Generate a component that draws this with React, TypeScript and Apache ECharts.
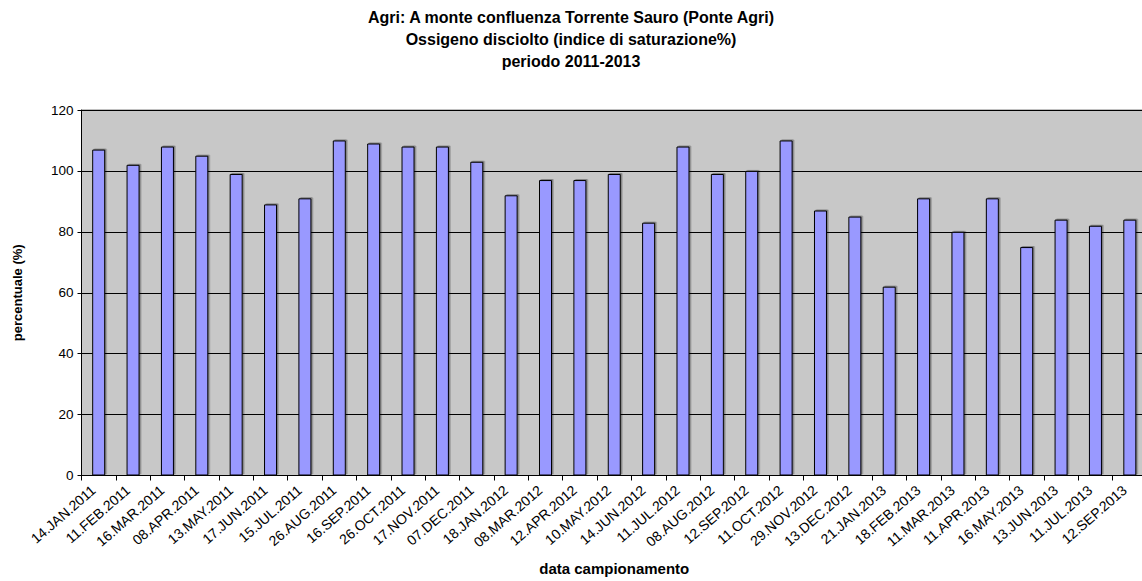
import React, { useEffect, useRef } from "react";
import * as echarts from "echarts";

const titleLines = [
  "Agri: A monte confluenza Torrente Sauro (Ponte Agri)",
  "Ossigeno disciolto (indice di saturazione%)",
  "periodo 2011-2013",
];

const dates = [
  "14.JAN.2011", "11.FEB.2011", "16.MAR.2011", "08.APR.2011", "13.MAY.2011",
  "17.JUN.2011", "15.JUL.2011", "26.AUG.2011", "16.SEP.2011", "26.OCT.2011",
  "17.NOV.2011", "07.DEC.2011", "18.JAN.2012", "08.MAR.2012", "12.APR.2012",
  "10.MAY.2012", "14.JUN.2012", "11.JUL.2012", "08.AUG.2012", "12.SEP.2012",
  "11.OCT.2012", "29.NOV.2012", "13.DEC.2012", "21.JAN.2013", "18.FEB.2013",
  "11.MAR.2013", "11.APR.2013", "16.MAY.2013", "13.JUN.2013", "11.JUL.2013",
  "12.SEP.2013",
];

const saturation = [
  107, 102, 108, 105, 99, 89, 91, 110, 109, 108,
  108, 103, 92, 97, 97, 99, 83, 108, 99, 100,
  110, 87, 85, 62, 91, 80, 91, 75, 84, 82,
  84,
];

const yMin = 0;
const yMax = 120;
const yStep = 20;

const FONT = "'Liberation Sans', Arial, Helvetica, sans-serif";

export default function App() {
  const ref = useRef<HTMLDivElement>(null);

  useEffect(() => {
    document.body.style.margin = "0";
    const chart = echarts.init(ref.current!, null, { renderer: "svg" });
    chart.setOption({
      animation: false,
      backgroundColor: "#ffffff",
      textStyle: { fontFamily: FONT },
      title: {
        text: titleLines.join("\n"),
        left: "center",
        top: 1.5,
        textStyle: {
          fontFamily: FONT,
          fontSize: 16,
          fontWeight: "bold",
          color: "#000",
          lineHeight: 22,
        },
      },
      grid: {
        left: 81.5,
        right: -5,
        top: 110,
        bottom: 105.5,
        outerBoundsMode: "none",
        containLabel: false,
        show: true,
        backgroundColor: "#C8C8C8",
        borderColor: "#808080",
        borderWidth: 1,
      },
      xAxis: {
        type: "category",
        data: dates,
        boundaryGap: true,
        name: "data campionamento",
        nameLocation: "middle",
        nameGap: 85,
        nameTextStyle: {
          fontFamily: FONT,
          fontSize: 15,
          fontWeight: "bold",
          color: "#000",
        },
        axisLine: { show: true, lineStyle: { color: "#000", width: 1 } },
        axisTick: { show: true, length: 5, interval: 0, lineStyle: { color: "#000" } },
        axisLabel: {
          interval: 0,
          rotate: 41,
          margin: 8,
          padding: [0, 7, 0, 0],
          fontFamily: FONT,
          fontSize: 14,
          color: "#000",
        },
        splitLine: { show: false },
      },
      yAxis: {
        type: "value",
        min: yMin,
        max: yMax,
        interval: yStep,
        name: "percentuale (%)",
        nameLocation: "middle",
        nameGap: 58,
        nameTextStyle: {
          fontFamily: FONT,
          fontSize: 13,
          fontWeight: "bold",
          color: "#000",
        },
        axisLine: { show: true, lineStyle: { color: "#000", width: 1 } },
        axisTick: { show: true, length: 4, lineStyle: { color: "#000" } },
        axisLabel: {
          margin: 8,
          fontFamily: FONT,
          fontSize: 13.5,
          color: "#000",
        },
        splitLine: { show: true, lineStyle: { color: "#000", width: 1 } },
      },
      series: [
        {
          type: "bar",
          data: saturation,
          barWidth: 13,
          itemStyle: {
            color: "#9999FF",
            borderColor: "#000",
            borderWidth: 1,
            shadowColor: "rgba(0,0,0,0.35)",
            shadowOffsetX: 1.5,
            shadowOffsetY: -1,
            shadowBlur: 0,
          },
        },
      ],
    });
    return () => chart.dispose();
  }, []);

  return (
    <div
      ref={ref}
      style={{ position: "absolute", left: 0, top: 0, width: 1142, height: 581 }}
    />
  );
}
